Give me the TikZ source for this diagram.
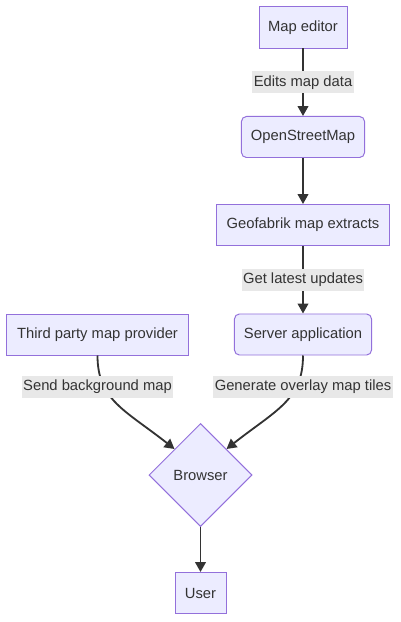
\documentclass[tikz,border=0pt]{standalone}
\usepackage{fontspec}
\setmainfont{Liberation Sans}
\usetikzlibrary{shapes.geometric,arrows.meta}
\definecolor{nodefill}{HTML}{ECECFF}
\definecolor{nodeline}{HTML}{9370DB}
\definecolor{textgray}{HTML}{333333}
\definecolor{labelbg}{HTML}{E8E8E8}

\begin{document}
\begin{tikzpicture}[x=0.025cm, y=-0.025cm,
font=\fontsize{10.5}{12}\selectfont, text=textgray,
block/.style = {rectangle, draw=nodeline, fill=nodefill, line width=0.7pt, minimum height=1.025cm, inner sep=0pt},
rblock/.style = {block, rounded corners=3.5pt},
decision/.style = {diamond, draw=nodeline, fill=nodefill, line width=0.7pt, minimum width=2.575cm, minimum height=2.575cm, inner sep=0pt},
edgelabel/.style = {fill=labelbg, inner xsep=1pt, inner ysep=0pt, minimum height=0.55cm},
link/.style = {draw=textgray, line width=1.3pt, -{Triangle[length=7pt,width=7.5pt]}}]

\useasboundingbox (0,0) rectangle (400,622);

\node[block, minimum width=2.2cm] (editor) at (303,27.5) {Map editor};
\node[rblock, minimum width=3.075cm] (osm) at (303,137) {OpenStreetMap};
\node[block, minimum width=4.325cm] (geofabrik) at (303,225) {Geofabrik map extracts};
\node[rblock, minimum width=3.425cm] (server) at (303,334.5) {Server application};
\node[block, minimum width=4.525cm] (third) at (97.5,334.5) {Third party map provider};
\node[decision] (browser) at (200.5,475) {Browser};
\node[block, minimum width=1.275cm] (user) at (200.5,593) {User};

\draw[link] (editor) -- node[edgelabel] (editlbl) {Edits map data} (osm);
\draw[link] (osm) -- (geofabrik);
\draw[link] (geofabrik) -- node[edgelabel] (updlbl) {Get latest updates} (server);
\draw[link] (third.south) .. controls (97.5,400) and (125,410) .. (browser.north west);
\draw[link] (server.south) .. controls (303,400) and (276,410) .. (browser.north east);
\draw[link] (browser) -- (user);

% labels on the curved links
\node[edgelabel] (sendlbl) at (97.5,387) {Send background map};
\node[edgelabel] (genlbl) at (303,387) {Generate overlay map tiles};
\end{tikzpicture}
\end{document}
